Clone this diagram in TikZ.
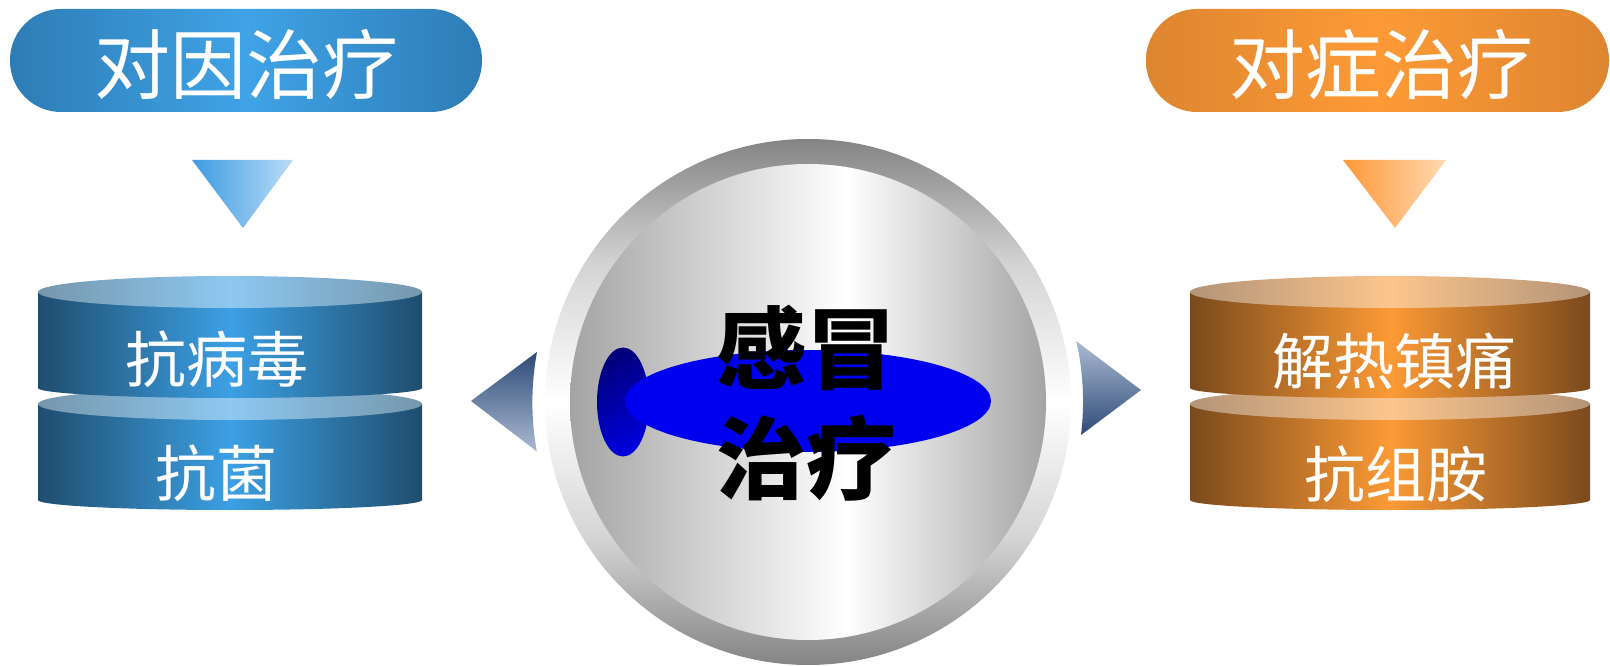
\documentclass[tikz,border=0pt]{standalone}
\usepackage{fontspec}
\newfontfamily\cjk{Noto Sans CJK SC}
\usetikzlibrary{positioning}

\definecolor{pillblue}{HTML}{2E7CB5}
\definecolor{pillbluec}{HTML}{3FA3E6}
\definecolor{pillorange}{HTML}{DD8530}
\definecolor{pillorangec}{HTML}{FD9A36}
\definecolor{triblue}{HTML}{3E9BE2}
\definecolor{trilightblue}{HTML}{B9DCF7}
\definecolor{triorange}{HTML}{FD9838}
\definecolor{trilightorange}{HTML}{FFD9B2}
\definecolor{cylblue}{HTML}{1F4D6E}
\definecolor{cylbluec}{HTML}{3CA0E4}
\definecolor{lidblue}{HTML}{7697AC}
\definecolor{lidbluec}{HTML}{8DC8F1}
\definecolor{cylorange}{HTML}{7A4A1C}
\definecolor{cylorangec}{HTML}{FC9A36}
\definecolor{lidorange}{HTML}{B39478}
\definecolor{lidorangec}{HTML}{FCC58C}
\definecolor{ringgray}{HTML}{848484}
\definecolor{ringlight}{HTML}{D4D4D4}
\definecolor{discgray}{HTML}{A4A4A4}
\definecolor{arrownavy}{HTML}{2E4A78}
\definecolor{arrowlight}{HTML}{ABBAD1}
\definecolor{bigblue}{HTML}{0000F0}
\definecolor{navydark}{HTML}{00007C}
\definecolor{navylight}{HTML}{0000DC}

\pgfdeclarehorizontalshading{discshade}{100bp}{color(0bp)=(discgray); color(25bp)=(discgray); color(54bp)=(white); color(75bp)=(discgray); color(100bp)=(discgray)}
\pgfdeclareverticalshading{ringshade}{100bp}{color(0bp)=(ringgray); color(25bp)=(ringgray); color(37bp)=(ringlight); color(50bp)=(white); color(63bp)=(ringlight); color(75bp)=(ringgray); color(100bp)=(ringgray)}

\begin{document}
\begin{tikzpicture}[x=1pt, y=1pt,
  headlabel/.style={text=white, inner sep=0pt, font=\cjk\fontsize{76}{76}\selectfont},
  cyllabel/.style={text=white, inner sep=0pt, font=\cjk\fontsize{61}{61}\selectfont}]
\useasboundingbox (0,0) rectangle (1610,665);

% Headers
\shade[left color=pillblue, right color=pillblue, middle color=pillbluec, rounded corners=51pt]
  (10,553) rectangle (482,656);
\node[headlabel] (cause) at (246,600) {对因治疗};
\shade[left color=pillorange, right color=pillorange, middle color=pillorangec, rounded corners=51pt]
  (1146,553) rectangle (1609,656);
\node[headlabel] (symptom) at (1381,600) {对症治疗};

% Down triangles
\shade[left color=triblue, right color=trilightblue] (192,505) -- (293,505) -- (243,437) -- cycle;
\shade[left color=triorange, right color=trilightorange] (1343,505) -- (1446,505) -- (1395,437) -- cycle;

% Stacked disks, lower one first
\foreach \yt/\yb in {261/165, 373/277} {
  \shade[left color=cylblue, right color=cylblue, middle color=cylbluec]
    (38,\yt) -- (38,\yb) arc[start angle=180, end angle=360, x radius=192, y radius=10] -- (422,\yt) -- cycle;
  \shade[left color=lidblue, right color=lidblue, middle color=lidbluec]
    (230,\yt) ellipse [x radius=192, y radius=16];
  \shade[left color=cylorange, right color=cylorange, middle color=cylorangec]
    (1190,\yt) -- (1190,\yb) arc[start angle=180, end angle=360, x radius=200, y radius=10] -- (1590,\yt) -- cycle;
  \shade[left color=lidorange, right color=lidorange, middle color=lidorangec]
    (1390,\yt) ellipse [x radius=200, y radius=16];
}
\node[cyllabel] (antivirus) at (217,306) {抗病毒};
\node[cyllabel] (antibact) at (216,192) {抗菌};
\node[cyllabel] (antipyretic) at (1394,304) {解热镇痛};
\node[cyllabel] (antihist) at (1396,191) {抗组胺};

% Side arrows
\shade[top color=arrownavy, bottom color=arrowlight]
  (471,264) -- (537,313) arc[start angle=169.5, end angle=190.3, radius=275.6] -- cycle;
\shade[top color=arrowlight, bottom color=arrownavy]
  (1141,275) -- (1081,230) arc[start angle=-7, end angle=12.6, radius=275.5] -- cycle;

% Centre disc
\shade[shading=ringshade] (808,263) circle (263);
\shade[shading=discshade] (808,263) circle (238);
\shade[top color=navydark, bottom color=navylight, shading angle=30]
  (623,263) ellipse [x radius=26, y radius=54.5];
\fill[bigblue] (808,264) ellipse [x radius=183, y radius=51];
\node[align=center, inner sep=0pt, font=\cjk\bfseries\fontsize{90}{110}\selectfont] (cold) at (806,262) {感冒\\治疗};
\end{tikzpicture}
\end{document}
